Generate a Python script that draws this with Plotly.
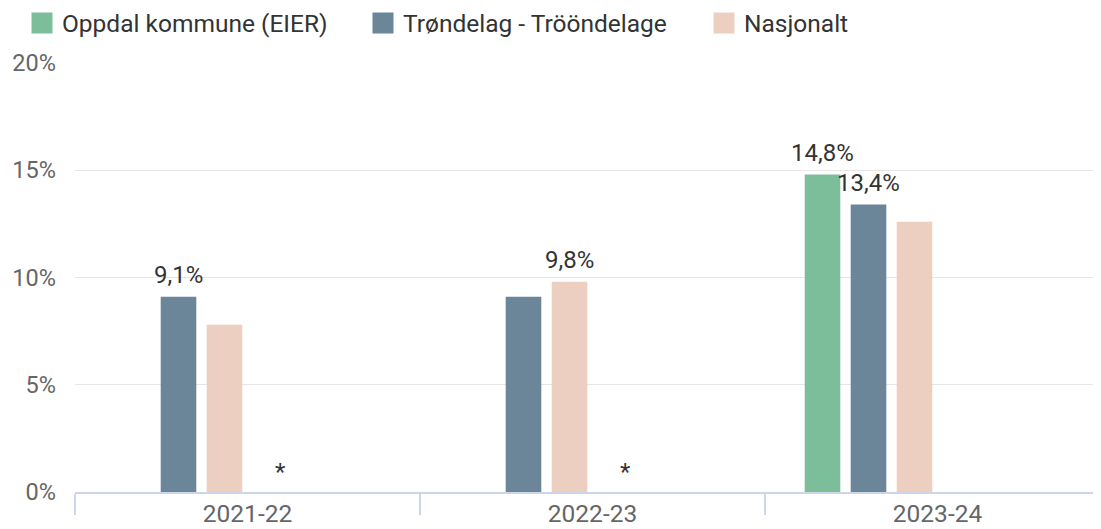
import plotly.graph_objects as go

# ---- data ----
categories = ["2021-22", "2022-23", "2023-24"]

oppdal_name = "Oppdal kommune (EIER)"
trondelag_name = "Trøndelag - Trööndelage"
nasjonalt_name = "Nasjonalt"

oppdal_values = [None, None, 14.8]
trondelag_values = [9.1, 9.1, 13.4]
nasjonalt_values = [7.8, 9.8, 12.6]

oppdal_labels = ["", "", "14,8%"]
trondelag_labels = ["9,1%", "", "13,4%"]
nasjonalt_labels = ["", "9,8%", ""]

missing_marker_categories = ["2021-22", "2022-23"]

y_tick_values = [0, 5, 10, 15, 20]
y_tick_labels = ["0%", "5%", "10%", "15%", "20%"]

# ---- style ----
FONT = "Roboto"
C_OPPDAL = "#7cbe9a"
C_TROND = "#6b8599"
C_NASJ = "#edcfc1"
W, H = 1101, 529
M_L, M_R, M_T, M_B = 67, 0, 55, 45
CAT_PX = 345.0
plot_w = W - M_L - M_R
plot_h = H - M_T - M_B
N_SLOTS = 6
BARGAP = 0.2

fig = go.Figure()

series = [
    (oppdal_name, oppdal_values, oppdal_labels, C_OPPDAL),
    (trondelag_name, trondelag_values, trondelag_labels, C_TROND),
    (nasjonalt_name, nasjonalt_values, nasjonalt_labels, C_NASJ),
]

for name, vals, labels, col in series:
    fig.add_trace(go.Bar(
        x=categories, y=vals, name=name, marker=dict(color=col, line=dict(width=0)),
        showlegend=False, hoverinfo="skip",
    ))

# empty series slots (the source chart reserves room for more series per group)
for k in range(N_SLOTS - len(series)):
    fig.add_trace(go.Bar(x=categories, y=[None] * len(categories), showlegend=False,
                         hoverinfo="skip", name=f"_empty{k}"))

# legend entries
for name, vals, labels, col in series:
    fig.add_trace(go.Scatter(
        x=[None], y=[None], mode="markers", name=name,
        marker=dict(symbol="square", size=16, color=col, line=dict(color=col, width=5)),
    ))

# data labels above bars (slot centres follow the grouped-bar layout)
slot_w = (1 - BARGAP) / N_SLOTS
for s, (name, vals, labels, col) in enumerate(series):
    off = -(1 - BARGAP) / 2 + (s + 0.5) * slot_w
    for i, (v, lab) in enumerate(zip(vals, labels)):
        if v is None or not lab:
            continue
        fig.add_annotation(x=i + off, y=v, xref="x", yref="y", text=lab, showarrow=False,
                           yanchor="bottom", yshift=6,
                           font=dict(family=FONT, size=24, color="#333333"))

for cat in missing_marker_categories:
    fig.add_annotation(x=categories.index(cat), y=0, xref="x", yref="y",
                       text="*", showarrow=False, xshift=33, yanchor="bottom", yshift=4,
                       font=dict(family=FONT, size=24, color="#333333"))

fig.update_layout(
    width=W, height=H,
    margin=dict(l=M_L, r=M_R, t=M_T, b=M_B, autoexpand=False),
    plot_bgcolor="white", paper_bgcolor="white",
    barmode="group", bargap=BARGAP, bargroupgap=0.226,
    font=dict(family=FONT, size=24, color="#666666"),
    legend=dict(
        orientation="h", x=(14 - M_L) / plot_w, xanchor="left",
        y=(H - M_B - 15) / plot_h, yanchor="middle",
        font=dict(family=FONT, size=24.5, color="#333333"),
        entrywidth=296, entrywidthmode="pixels", itemsizing="trace",
        bgcolor="rgba(0,0,0,0)", borderwidth=0, valign="middle",
    ),
    xaxis=dict(
        type="category", categoryorder="array", categoryarray=categories,
        range=[-0.5, -0.5 + plot_w / CAT_PX],
        showline=True, linecolor="#ccd6eb", linewidth=2,
        ticks="outside", tickson="boundaries", ticklen=21, tickwidth=2, tickcolor="#ccd6eb",
        ticklabelstandoff=-1,
        showgrid=False, zeroline=False,
        tickfont=dict(family=FONT, size=24.5, color="#666666"),
    ),
    yaxis=dict(
        range=[0, 20], tickmode="array", tickvals=y_tick_values, ticktext=y_tick_labels,
        showgrid=True, gridcolor="#e6e6e6", gridwidth=1, zeroline=False,
        showline=False, ticks="", ticklabelstandoff=18,
        tickfont=dict(family=FONT, size=23.5, color="#666666"),
    ),
)

fig.write_html("out.html")
